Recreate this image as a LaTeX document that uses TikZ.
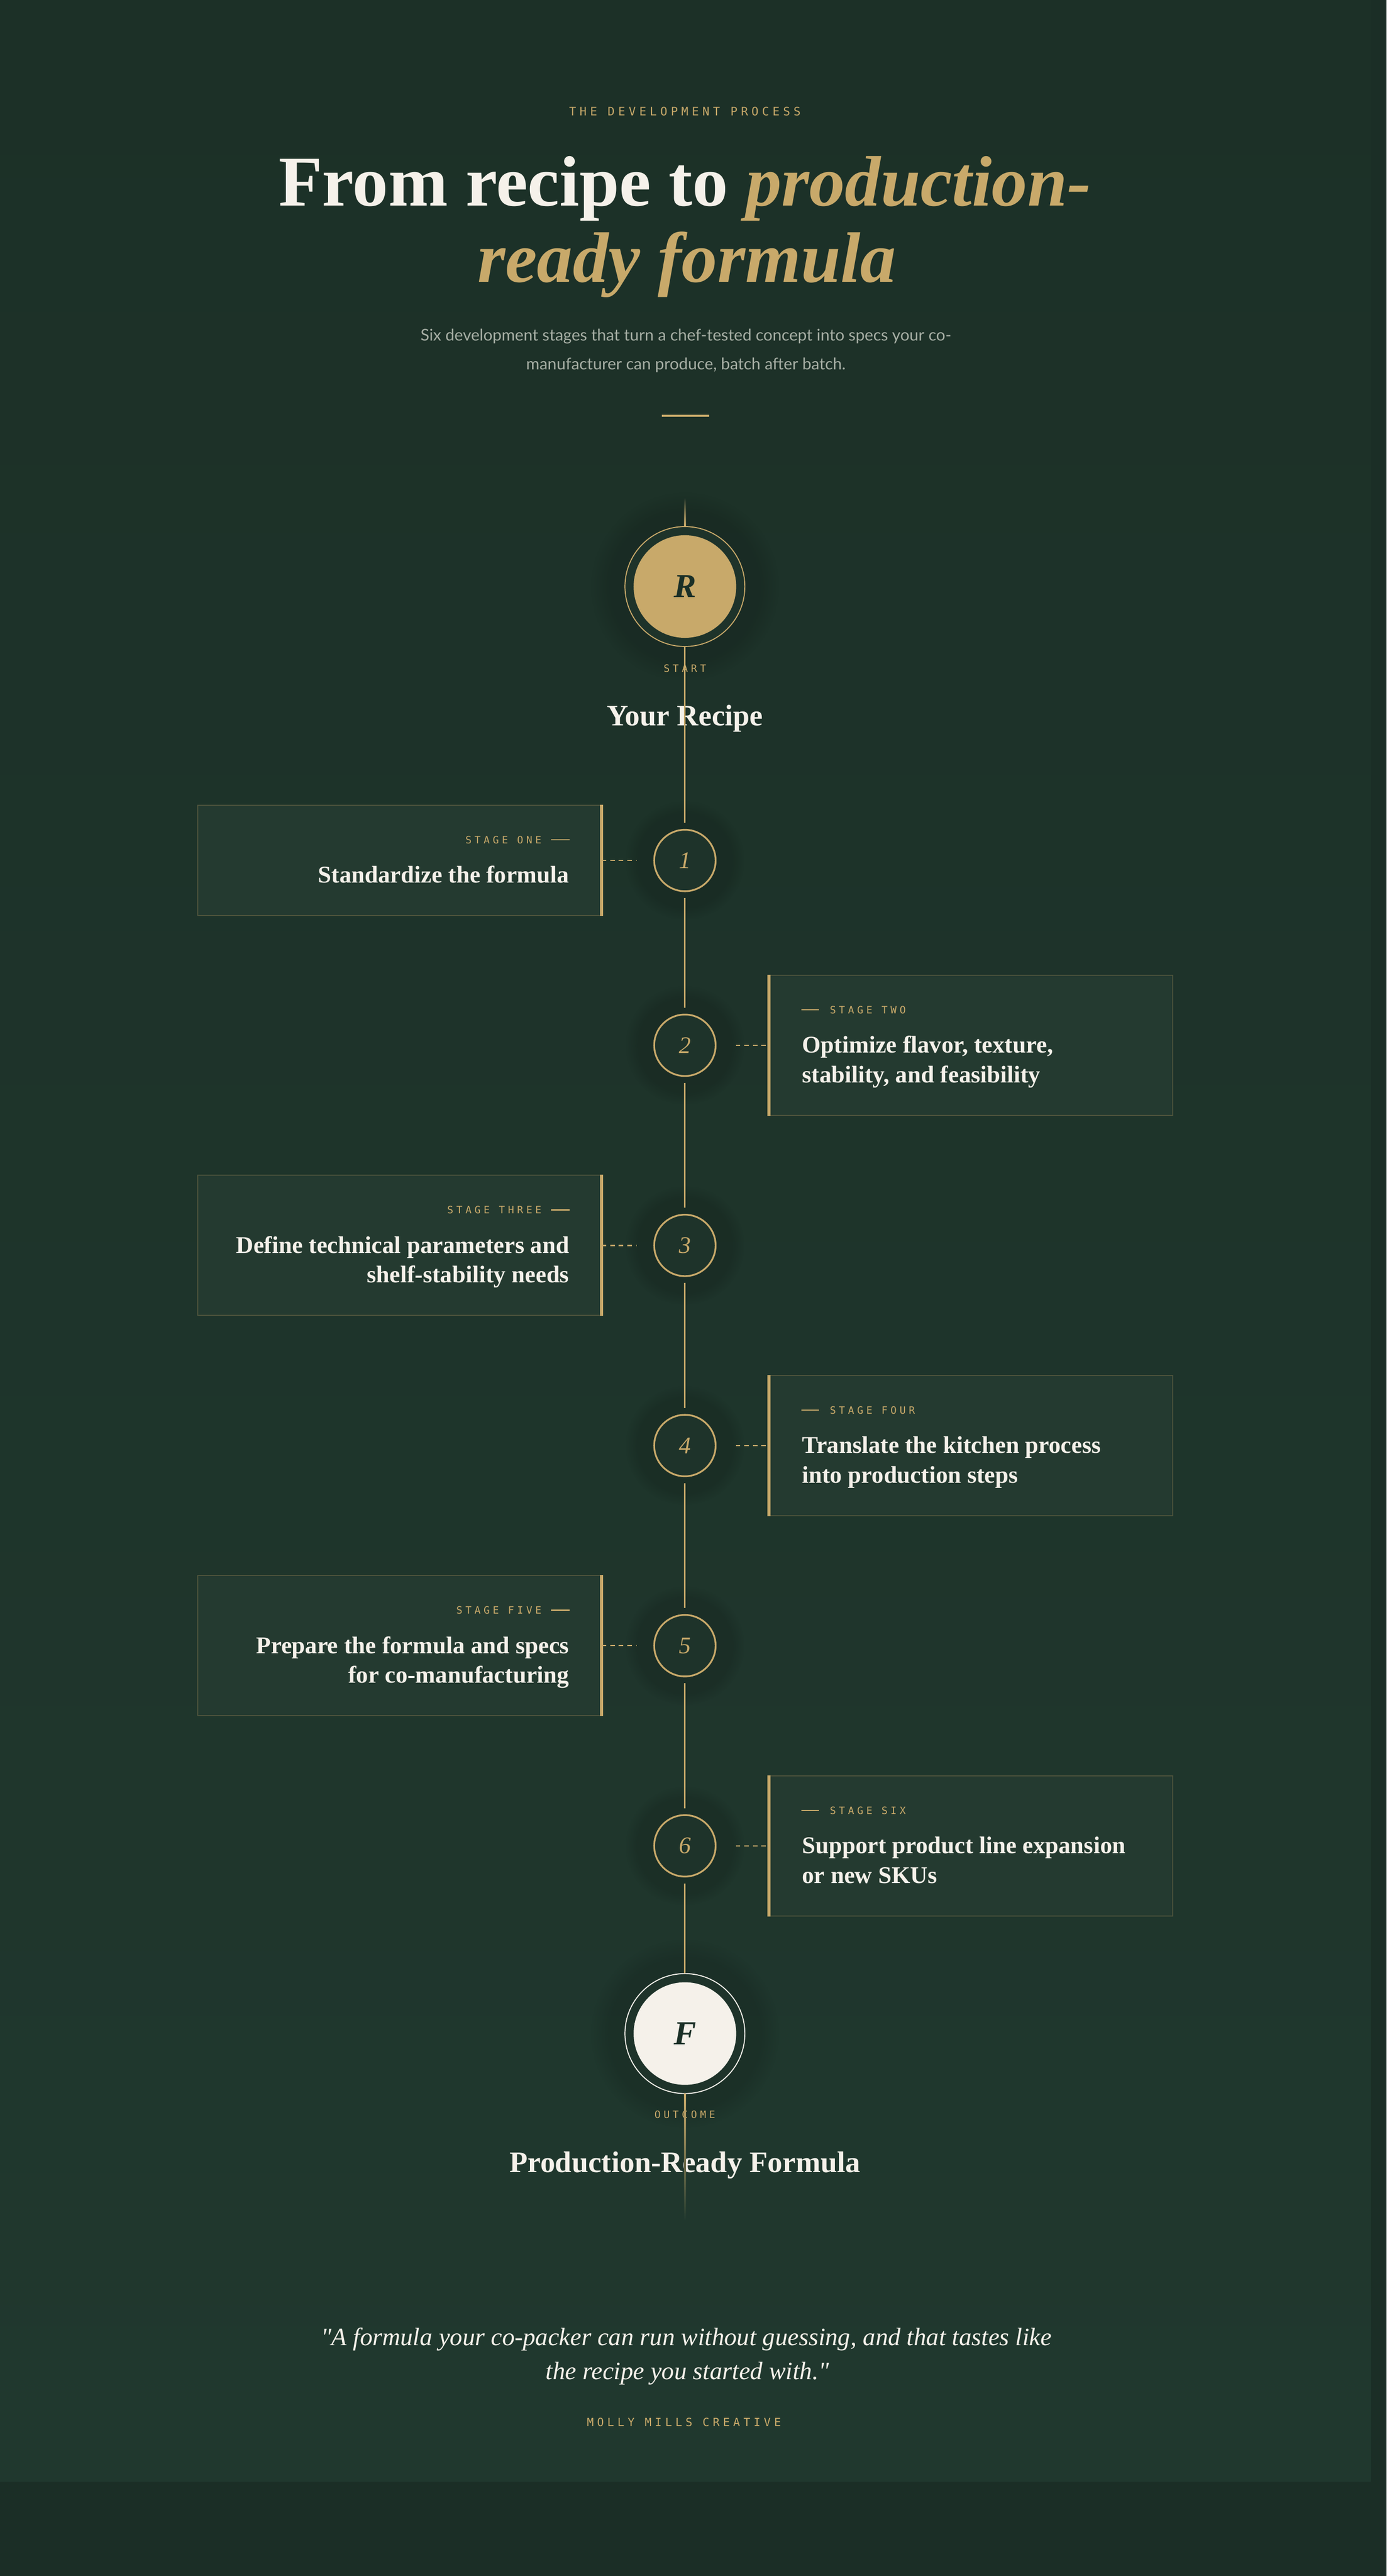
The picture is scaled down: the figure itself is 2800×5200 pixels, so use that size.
\documentclass[tikz,border=0pt]{standalone}
\usepackage{fontspec}
\setmainfont{Liberation Serif}
\newfontfamily\monofont[LetterSpace=30]{DejaVu Sans Mono}
\newfontfamily\bodyfont{Lato}
\usetikzlibrary{fadings}
\definecolor{bgout}{HTML}{1B2E26}
\definecolor{bgtop}{HTML}{1C3027}
\definecolor{bgbot}{HTML}{20382E}
\definecolor{bg}{HTML}{1E332A}
\definecolor{cardfill}{HTML}{243A30}
\definecolor{gold}{HTML}{C8A96A}
\definecolor{cream}{HTML}{F5F1EA}
\definecolor{ink}{HTML}{1B3027}
\definecolor{muted}{HTML}{A7AFA5}

\begin{document}
\begin{tikzpicture}[x=0.01cm, y=-0.01cm,
  eyebrow/.style={text=gold, inner sep=0, font=\monofont\fontsize{5.8pt}{7pt}\selectfont},
  heading/.style={text=cream, inner sep=0, font=\bfseries\fontsize{17.1pt}{20pt}\selectfont},
  cardtitle/.style={text=cream, inner sep=0, font=\bfseries\fontsize{13.8pt}{17pt}\selectfont},
  card/.style={draw=gold!28!bg, line width=0.57pt, fill=cardfill, minimum width=8.14cm, inner sep=0},
  goldedge/.style={gold, line width=1.7pt},
  dashline/.style={gold, line width=0.7pt, dash pattern=on 2.6pt off 2.3pt},
  spine/.style={gold, line width=0.85pt},
  stagedot/.style={circle, draw=gold, line width=1pt, fill=bg, minimum size=1.24cm, inner sep=0,
    text=gold, font=\itshape\fontsize{13.7pt}{16pt}\selectfont},
  halo/.style={black, opacity=0.12, path fading=circle with fuzzy edge 20 percent}]

  \fill[bgout] (0,0) rectangle (2800,5200);
  \shade[top color=bgtop, bottom color=bgbot] (0,0) rectangle (2768,5009);

  \node[eyebrow, font=\monofont\fontsize{6.7pt}{8pt}\selectfont] (kicker) at (1383,225) {THE DEVELOPMENT PROCESS};
  \node[text=cream, inner sep=0, anchor=base, font=\bfseries\fontsize{41pt}{46pt}\selectfont] (title1) at (1383,415)
    {From recipe to \textcolor{gold}{\textit{production-}}};
  \node[text=gold, inner sep=0, anchor=base, font=\bfseries\itshape\fontsize{41pt}{46pt}\selectfont] (title2) at (1387,569)
    {ready formula};
  \node[text=muted, inner sep=0, anchor=base, font=\bodyfont\fontsize{9.3pt}{11pt}\selectfont] (sub1) at (1385,688)
    {Six development stages that turn a chef-tested concept into specs your co-};
  \node[text=muted, inner sep=0, anchor=base, font=\bodyfont\fontsize{9.3pt}{11pt}\selectfont] (sub2) at (1385,746)
    {manufacturer can produce, batch after batch.};
  \draw[gold, line width=1.14pt] (1336,839) -- (1432,839);

  % start and outcome
  \fill[halo] (1383,1184) circle (1.9cm);
  \node[circle, minimum size=2.42cm, draw=gold, line width=0.57pt, fill=bg, inner sep=0] (Rring) at (1383,1184) {};
  \node[circle, minimum size=2.07cm, fill=gold, inner sep=0, text=ink,
    font=\bfseries\itshape\fontsize{19.3pt}{22pt}\selectfont] (R) at (Rring.center) {R};
  \node[eyebrow] (startlab) at (1383,1349) {START};
  \node[heading, anchor=base] (start) at (1383,1465) {Your Recipe};

  \fill[halo] (1383,4105) circle (1.9cm);
  \node[circle, minimum size=2.42cm, draw=cream, line width=0.57pt, fill=bg, inner sep=0] (Fring) at (1383,4105) {};
  \node[circle, minimum size=2.07cm, fill=cream, inner sep=0, text=ink,
    font=\bfseries\itshape\fontsize{19.3pt}{22pt}\selectfont] (F) at (Fring.center) {F};
  \node[eyebrow] (outlab) at (1383,4269) {OUTCOME};
  \node[heading, anchor=base] (outcome) at (1383,4385) {Production-Ready Formula};

  % stages
  \foreach \n/\yy/\hh/\lab/\ta/\tb in {
      1/1737/223/ONE/{Standardize the formula}/{},
      2/2110/283/TWO/{Optimize flavor, texture,}/{stability, and feasibility},
      3/2514/283/THREE/{Define technical parameters and}/{shelf-stability needs},
      4/2918/283/FOUR/{Translate the kitchen process}/{into production steps},
      5/3322/283/FIVE/{Prepare the formula and specs}/{for co-manufacturing},
      6/3726/283/SIX/{Support product line expansion}/{or new SKUs}}{
    \fill[halo] (1383,\yy) circle (1.2cm);
    \node[stagedot] (s\n) at (1383,\yy) {\n};
    \ifodd\n\relax
      \node[card, minimum height=\hh*0.01cm, anchor=east] (c\n) at (1215,\yy) {};
      \draw[goldedge] (c\n.north east) -- (c\n.south east);
      \draw[dashline, shorten >=0.35cm] (c\n.east) -- (s\n.west);
      \node[eyebrow, anchor=east] (l\n) at (1094,{\yy-\hh/2+70}) {STAGE \lab};
      \draw[gold, line width=0.7pt] ([xshift=0.19cm]l\n.east) -- ++(37,0);
      \node[cardtitle, anchor=base east] (t\n) at (1150,{\yy-\hh/2+157}) {\ta};
      \node[cardtitle, anchor=base east] (u\n) at (1150,{\yy-\hh/2+217}) {\tb};
    \else
      \node[card, minimum height=\hh*0.01cm, anchor=west] (c\n) at (1553,\yy) {};
      \draw[goldedge] (c\n.north west) -- (c\n.south west);
      \draw[dashline, shorten <=0.39cm] (s\n.east) -- (c\n.west);
      \node[eyebrow, anchor=west] (l\n) at (1675,{\yy-\hh/2+70}) {STAGE \lab};
      \draw[gold, line width=0.7pt] ([xshift=-0.21cm]l\n.west) -- ++(-36,0);
      \node[cardtitle, anchor=base west] (t\n) at (1619,{\yy-\hh/2+157}) {\ta};
      \node[cardtitle, anchor=base west] (u\n) at (1619,{\yy-\hh/2+217}) {\tb};
    \fi
  }

  \shade[top color=bgtop, bottom color=gold] (1381.5,1005) rectangle (1384.5,1063);
  \draw[spine, shorten >=0.12cm] (Rring.south) -- (s1.north);
  \foreach \a/\b in {1/2,2/3,3/4,4/5,5/6}
    \draw[spine, shorten <=0.12cm, shorten >=0.12cm] (s\a.south) -- (s\b.north);
  \draw[spine, shorten <=0.12cm] (s6.south) -- (Fring.north);
  \shade[top color=gold, bottom color=bgbot] (1381.5,4226) rectangle (1384.5,4482);

  \node[text=cream, inner sep=0, anchor=base, font=\itshape\fontsize{14.4pt}{17pt}\selectfont] (quote1) at (1386,4735)
    {\textquotedbl A formula your co-packer can run without guessing, and that tastes like};
  \node[text=cream, inner sep=0, anchor=base, font=\itshape\fontsize{14.4pt}{17pt}\selectfont] (quote2) at (1388,4803)
    {the recipe you started with.\textquotedbl};
  \node[eyebrow, font=\monofont\fontsize{6.5pt}{8pt}\selectfont] (credit) at (1381,4889) {MOLLY MILLS CREATIVE};
\end{tikzpicture}
\end{document}
